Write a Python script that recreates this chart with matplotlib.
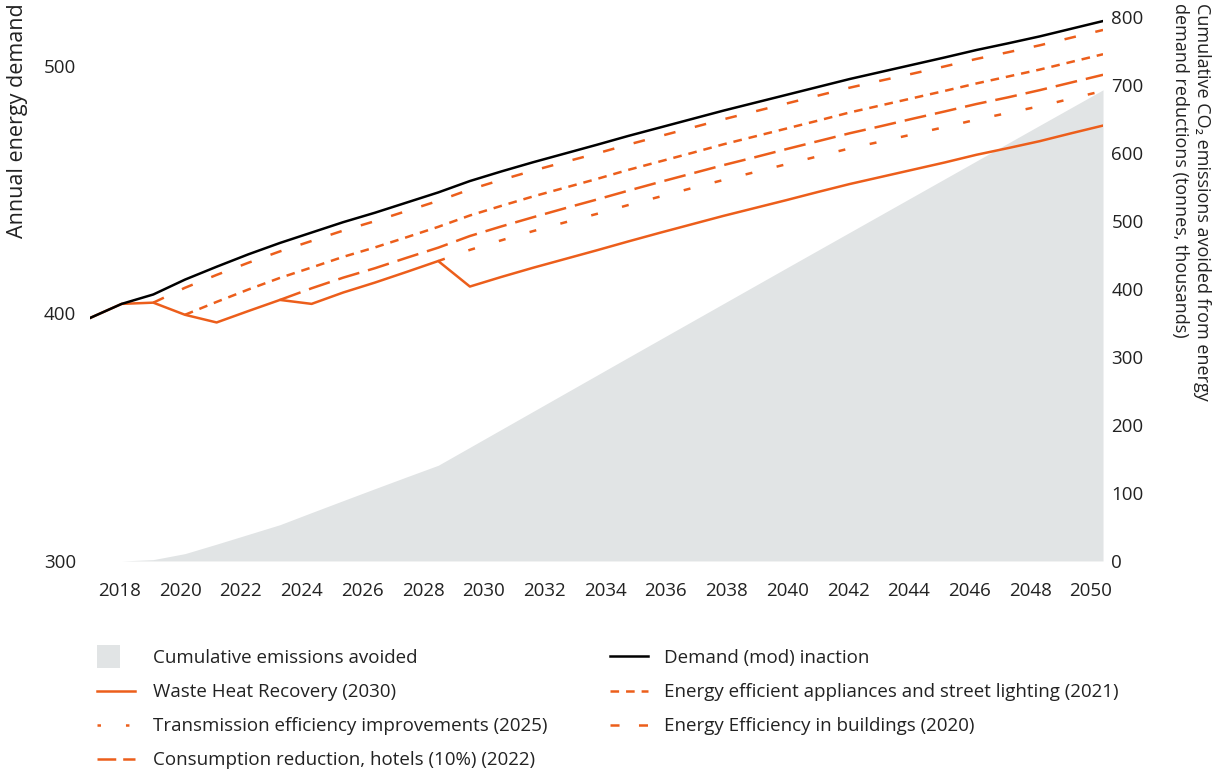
import numpy as np
import matplotlib
matplotlib.use('Agg')
import matplotlib.pyplot as plt
from matplotlib.lines import Line2D
from matplotlib.patches import Rectangle
from matplotlib.legend_handler import HandlerPatch

######################################
# DATA
years = list(range(2018, 2051))

# annual energy demand, no action
demand = [398.1, 403.8, 407.6, 413.6, 418.8, 423.8, 428.4, 432.6, 436.8, 440.6,
          444.7, 448.8, 453.4, 457.3, 461.0, 464.5, 468.0, 471.6, 475.0, 478.4,
          481.8, 485.0, 488.2, 491.4, 494.6, 497.5, 500.4, 503.3, 506.3, 509.0,
          511.8, 514.9, 518.0]

# all measures together (ends with waste heat recovery)
waste_heat = [398.1, 403.8, 404.3, 399.4, 396.3, 400.9, 405.4, 403.8, 408.4, 412.4,
              416.7, 421.1, 410.8, 414.7, 418.4, 421.9, 425.4, 429.0, 432.5, 435.9,
              439.3, 442.5, 445.7, 449.0, 452.2, 455.1, 458.0, 460.9, 464.0, 466.7,
              469.5, 472.7, 475.8]

buildings_years = list(range(2020, 2051))
buildings = [404.3, 410.3, 415.5, 420.4, 425.0, 429.2, 433.4, 437.2, 441.3, 445.4,
             450.0, 453.9, 457.6, 461.1, 464.5, 468.1, 471.5, 474.9, 478.3, 481.5,
             484.7, 487.9, 491.1, 494.0, 496.8, 499.7, 502.7, 505.4, 508.2, 511.3,
             514.4]

appliances_years = list(range(2021, 2051))
appliances = [399.4, 404.6, 409.6, 414.3, 418.5, 422.8, 426.6, 430.7, 434.9, 439.5,
              443.4, 447.2, 450.7, 454.2, 457.9, 461.3, 464.7, 468.2, 471.4, 474.6,
              477.8, 481.1, 484.0, 486.9, 489.8, 492.8, 495.6, 498.4, 501.5, 504.6]

hotels_years = list(range(2024, 2051))
hotels = [405.4, 410.1, 414.4, 418.2, 422.4, 426.5, 431.2, 435.1, 438.8, 442.4,
          445.9, 449.5, 453.0, 456.4, 459.8, 463.0, 466.3, 469.5, 472.7, 475.6,
          478.6, 481.5, 484.5, 487.2, 490.1, 493.2, 496.3]

transmission_years = list(range(2029, 2051))
transmission = [421.1, 425.6, 429.5, 433.2, 436.7, 440.1, 443.7, 447.1, 450.5, 453.8,
                457.0, 460.2, 463.4, 466.6, 469.4, 472.3, 475.2, 478.2, 480.9, 483.6,
                486.7, 489.8]

# cumulative CO2 avoided (tonnes, thousands)
cum_avoided = [0, 0, 2.0, 10.8, 24.7, 39.0, 53.3, 71.1, 88.7, 106.2,
               123.5, 140.6, 167.0, 193.4, 219.8, 246.2, 272.6, 299.0, 325.3, 351.6,
               377.9, 404.2, 430.5, 456.7, 482.9, 509.1, 535.3, 561.5, 587.7, 613.9,
               640.1, 666.2, 692.3]

tick_years = np.arange(2018, 2051, 2)
######################################

ORANGE = '#EC5E1B'
GREY = '#E1E4E5'
TXT = '#222222'
LW = 1.8

plt.rcParams['font.family'] = ['Open Sans', 'DejaVu Sans']
plt.rcParams['font.size'] = 13.5
plt.rcParams['lines.scale_dashes'] = False

fig = plt.figure(figsize=(12.26, 7.73), dpi=100)
ax = fig.add_axes([0.0734, 0.2743, 0.8263, 0.7193])
ax2 = ax.twinx()

# grey area on the right axis, behind the lines
ax2.fill_between(years, 0, cum_avoided, color=GREY, lw=0)
ax.set_zorder(ax2.get_zorder() + 1)
ax.patch.set_visible(False)

ax.plot(buildings_years, buildings, color=ORANGE, lw=LW, dashes=(8.4, 14.4))
ax.plot(appliances_years, appliances, color=ORANGE, lw=LW, dashes=(6.2, 5.0))
ax.plot(hotels_years, hotels, color=ORANGE, lw=LW, dashes=(15.8, 6.5))
ax.plot(transmission_years, transmission, color=ORANGE, lw=LW, dashes=(5.0, 18.0))
ax.plot(years, waste_heat, color=ORANGE, lw=LW)
ax.plot(years, demand, color='black', lw=LW)

ax.set_xlim(2018, 2050)
ax.set_ylim(300, 524.5)
ax2.set_ylim(0, 817)

# the year labels of the original sit on a slightly narrower scale than the data
ax.set_xticks(2018.93 + (tick_years - 2018) * 0.959)
ax.set_xticklabels([str(y) for y in tick_years])
ax.set_yticks([300, 400, 500])
ax2.set_yticks(range(0, 801, 100))

for a in (ax, ax2):
    for s in a.spines.values():
        s.set_visible(False)
ax.tick_params(axis='x', length=0, pad=15, colors=TXT)
ax.tick_params(axis='y', length=0, pad=10, colors=TXT)
ax2.tick_params(axis='y', length=0, pad=6, colors=TXT)

fig.text(18 / 1226, 1 - 3 / 773, 'Annual energy demand', rotation=90,
         va='top', ha='center', color=TXT, fontsize=15.5)
fig.text(1191 / 1226, 1 - 3 / 773,
         'Cumulative CO\u2082 emissions avoided from energy\ndemand reductions (tonnes, thousands)',
         rotation=270, va='top', ha='center', multialignment='left', color=TXT,
         fontsize=13, linespacing=1.35)


def square_patch(legend, orig_handle, xdescent, ydescent, width, height, fontsize):
    s = height * 1.75
    return Rectangle((-xdescent, -ydescent + height / 2 - s / 2), s, s)


left_handles = [Rectangle((0, 0), 1, 1, fc=GREY, ec='none'),
                Line2D([], [], color=ORANGE, lw=LW),
                Line2D([], [], color=ORANGE, lw=LW, dashes=(2.5, 18.0)),
                Line2D([], [], color=ORANGE, lw=LW, dashes=(13.5, 5.0))]
left_labels = ['Cumulative emissions avoided', 'Waste Heat Recovery (2030)',
               'Transmission efficiency improvements (2025)',
               'Consumption reduction, hotels (10%) (2022)']
right_handles = [Line2D([], [], color='black', lw=LW),
                 Line2D([], [], color=ORANGE, lw=LW, dashes=(6.2, 5.0)),
                 Line2D([], [], color=ORANGE, lw=LW, dashes=(6.5, 14.0))]
right_labels = ['Demand (mod) inaction',
                'Energy efficient appliances and street lighting (2021)',
                'Energy Efficiency in buildings (2020)']

leg_kw = dict(loc='upper left', frameon=False, borderpad=0, borderaxespad=0,
              labelspacing=0.86, handlelength=2.05, labelcolor=TXT)
fig.legend(left_handles, left_labels, bbox_to_anchor=(97 / 1226, 1 - 649 / 773),
           handletextpad=0.95, handler_map={Rectangle: HandlerPatch(patch_func=square_patch)},
           **leg_kw)
fig.legend(right_handles, right_labels, bbox_to_anchor=(610 / 1226, 1 - 649 / 773),
           handletextpad=0.85, **leg_kw)

fig.savefig('out.png', dpi=100)
